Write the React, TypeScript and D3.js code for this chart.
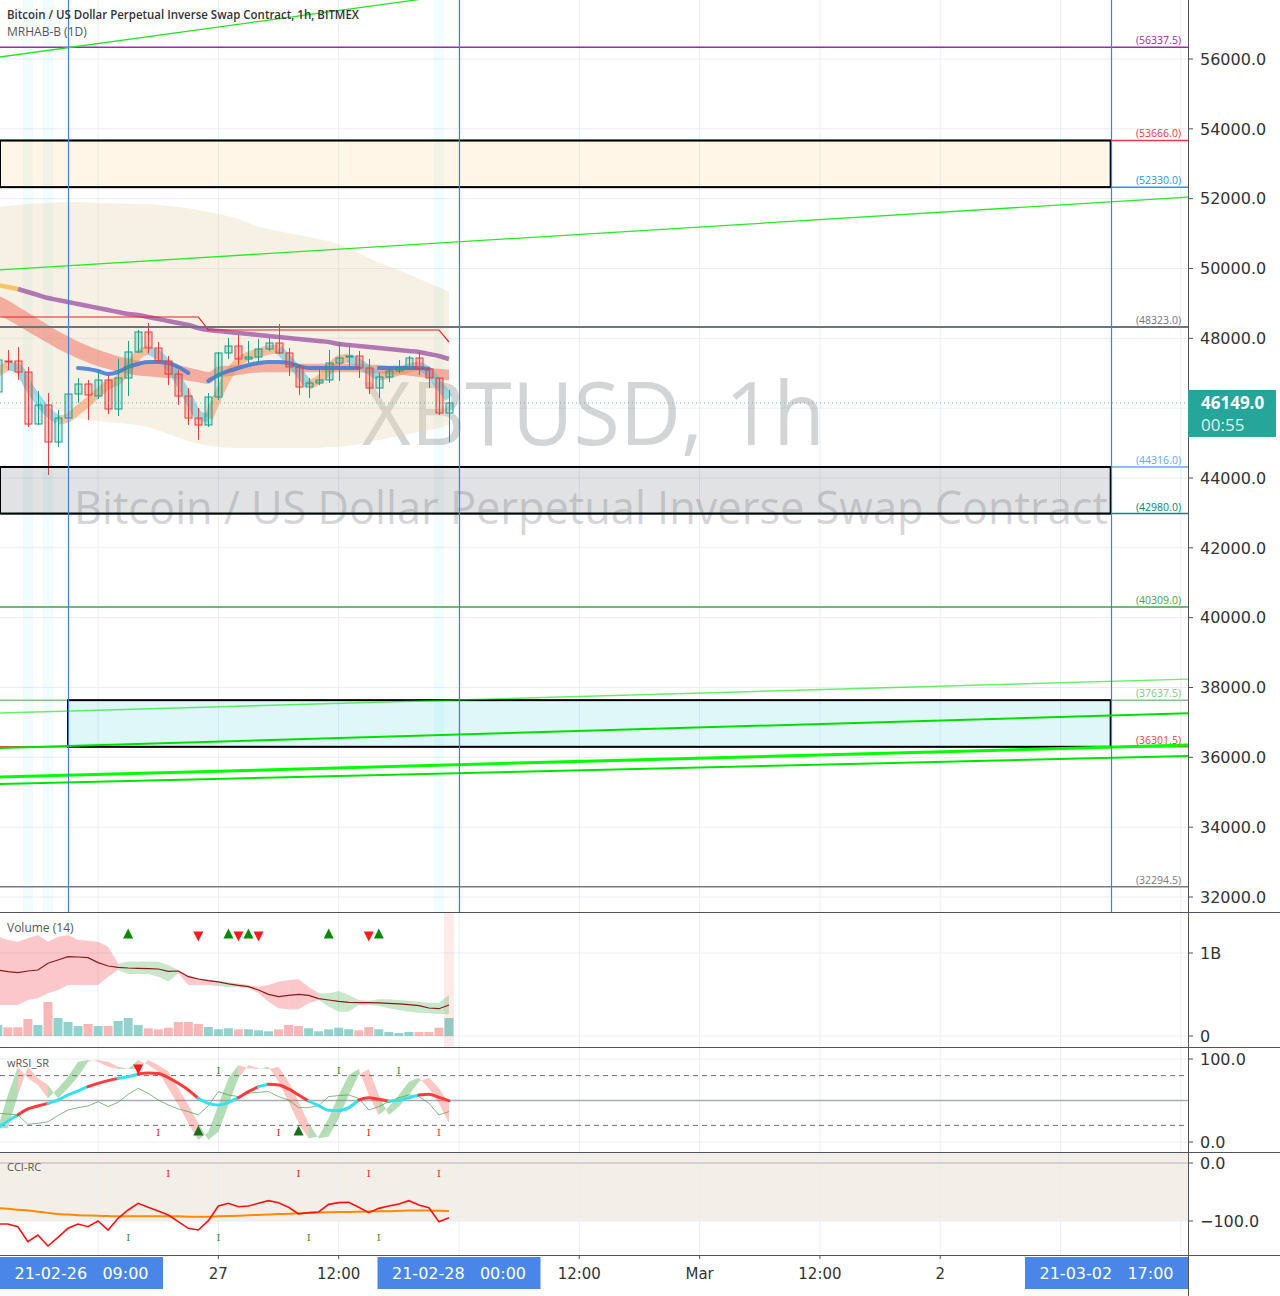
import React, { useEffect } from 'react';
import * as d3 from 'd3';

const FIRST_BAR = Date.UTC(2021, 1, 26, 2);
const HOUR = 3600000;

// ---------- candles (XBTUSD 1h) ----------
const barOpen = [46463, 47351, 47351, 47036, 45546, 46090, 45031, 45718, 46405, 46692, 46348, 46807, 45976, 46864, 47609, 48181, 47723, 47351, 46978, 46348, 45718, 45518, 46320, 47580, 47780, 47408, 47465, 47694, 47866, 47580, 47179, 46606, 46721, 46807, 47294, 47465, 47494, 47150, 46577, 46893, 47064, 47150, 47437, 47122, 46864, 45862];
const barHigh = [47550, 47666, 47752, 47179, 46491, 46434, 45947, 46434, 46864, 46807, 47093, 46950, 47408, 47924, 48239, 48439, 47895, 47494, 47093, 46578, 46004, 46434, 47609, 48010, 48096, 47924, 47981, 48010, 48410, 47723, 47236, 46864, 47122, 47666, 47895, 47752, 47637, 47408, 47007, 47179, 47380, 47494, 47609, 47150, 46864, 46520];
const barLow = [46300, 47093, 46807, 45460, 45518, 44086, 44888, 45661, 46148, 45661, 46262, 45833, 45775, 46348, 47580, 47580, 47294, 46663, 46090, 45518, 45088, 45460, 46234, 47408, 47236, 47294, 47294, 47637, 47551, 46921, 46377, 46291, 46663, 46721, 46778, 47093, 46864, 46405, 46291, 46749, 47007, 47093, 46950, 46577, 45804, 45031];
const barClose = [47380, 47322, 47036, 45546, 46090, 45031, 45718, 46405, 46692, 46377, 46807, 45976, 46864, 47609, 48181, 47723, 47351, 46978, 46348, 45718, 45518, 46320, 47580, 47780, 47408, 47465, 47694, 47866, 47580, 47179, 46606, 46721, 46807, 47294, 47437, 47494, 47150, 46577, 46893, 47064, 47150, 47437, 47122, 46864, 45862, 46149];

// ---------- overlay indicator series (price units) ----------
const cloudTop = [51760, 51790, 51820, 51850, 51860, 51875, 51890, 51905, 51905, 51890, 51875, 51875, 51860, 51850, 51850, 51850, 51820, 51790, 51760, 51730, 51675, 51620, 51560, 51505, 51420, 51300, 51190, 51130, 51075, 51015, 50960, 50900, 50845, 50790, 50700, 50590, 50445, 50300, 50160, 50070, 49960, 49840, 49700, 49585, 49470, 49330];
const cloudBottom = [47235, 47095, 46865, 46580, 46290, 46090, 45945, 45805, 45720, 45660, 45630, 45605, 45575, 45545, 45520, 45460, 45375, 45260, 45145, 45060, 44975, 44915, 44890, 44860, 44860, 44860, 44860, 44860, 44860, 44860, 44860, 44860, 44860, 44890, 44890, 44915, 44975, 45030, 45090, 45145, 45205, 45260, 45315, 45375, 45430, 45520];
const slowMid = [48955, 48811, 48640, 48468, 48296, 48124, 47952, 47809, 47666, 47551, 47437, 47351, 47265, 47208, 47150, 47122, 47093, 47064, 47036, 46978, 46921, 46864, 47036, 47064, 47093, 47122, 47150, 47150, 47150, 47150, 47150, 47150, 47150, 47150, 47150, 47150, 47150, 47122, 47122, 47093, 47093, 47064, 47036, 47007, 46978, 46950];
const slowSpread = [280, 280, 275, 270, 265, 260, 255, 250, 245, 240, 235, 230, 225, 220, 215, 210, 205, 200, 195, 190, 180, 170, 160, 150, 140, 130, 125, 120, 120, 120, 120, 120, 120, 120, 120, 120, 120, 120, 120, 125, 130, 135, 140, 145, 150, 150];
const fastLine = [47036, 47208, 47150, 46663, 46234, 45890, 45661, 45718, 45947, 46177, 46434, 46663, 46807, 47150, 47523, 47666, 47523, 47236, 46807, 46291, 45804, 45718, 46377, 46950, 47322, 47494, 47580, 47666, 47694, 47380, 47036, 46663, 46807, 47093, 47380, 47437, 47294, 47093, 46921, 46978, 47064, 47150, 47208, 47036, 46663, 46291];
const midLine = [NaN, NaN, NaN, NaN, NaN, NaN, NaN, NaN, 47150, 47122, 47064, 46978, 47036, 47179, 47265, 47322, 47322, 47294, 47179, 47007, NaN, 46778, 46950, 47064, 47150, 47236, 47294, 47322, 47322, 47294, 47208, 47150, 47150, 47150, 47150, 47150, 47150, NaN, 47150, 47150, 47150, 47150, 47150, 47122, NaN, NaN];
const dailyMA = [49527, 49470, 49413, 49327, 49241, 49155, 49098, 49040, 48983, 48926, 48869, 48811, 48754, 48697, 48668, 48611, 48554, 48497, 48439, 48382, 48296, 48239, 48210, 48182, 48153, 48124, 48096, 48067, 48038, 48010, 47981, 47952, 47924, 47895, 47838, 47810, 47781, 47752, 47723, 47694, 47666, 47637, 47609, 47551, 47494, 47408];
const stepHigh = [48611, 48611, 48611, 48611, 48611, 48611, 48611, 48611, 48611, 48611, 48611, 48611, 48611, 48611, 48611, 48611, 48611, 48611, 48611, 48611, 48611, 48239, 48239, 48239, 48239, 48239, 48239, 48239, 48239, 48239, 48239, 48239, 48239, 48239, 48239, 48239, 48239, 48239, 48239, 48239, 48239, 48239, 48239, 48239, 48239, 47895];
const highlightBars = [3, 5, 44];

// ---------- drawings ----------
const levelPrices = [56337.5, 53666.0, 52330.0, 48323.0, 44316.0, 42980.0, 40309.0, 37637.5, 36301.5, 32294.5];
const levelColors = ['#9c27b0', '#f23645', '#2196f3', '#6f727c', '#64a8f0', '#00897b', '#43a047', '#81c784', '#ff3d3d', '#787b86'];
const zoneTop = [53666.0, 44316.0, 37637.5];
const zoneBottom = [52330.0, 42980.0, 36301.5];
const zoneStartHour = [-7, -7, 0];
const zoneFill = ['rgba(255,152,0,0.09)', 'rgba(120,123,134,0.22)', 'rgba(0,188,212,0.12)'];
// trend lines: price at 21-02-26 02:00 and at 21-03-02 17:00
const trendStart = [56049, 49954, 37267, 36265, 35435, 35235];
const trendEnd = [60422, 51910, 38177, 37200, 36291, 35984];
const trendWidth = [1.3, 1.3, 1.4, 2, 3, 2];
const trendColor = ['#22e622', '#22ee22', 'rgba(0,230,0,0.6)', '#00e000', '#00ff00', '#00e600'];
const markerHours = [0, 39, 104]; // vertical lines, hours after 21-02-26 09:00

// ---------- volume ----------
const volume = [133, 105, 105, 205, 133, 410, 217, 169, 120, 145, 120, 120, 181, 217, 133, 93, 81, 100, 169, 169, 145, 108, 81, 93, 81, 81, 69, 57, 81, 133, 120, 93, 57, 81, 100, 81, 69, 108, 81, 48, 36, 48, 48, 48, 100, 217];
const volumeUp = [1, 0, 0, 0, 1, 0, 1, 1, 1, 0, 1, 0, 1, 1, 1, 0, 0, 0, 0, 0, 0, 1, 1, 1, 0, 1, 1, 1, 0, 0, 0, 1, 1, 1, 1, 1, 0, 0, 1, 1, 1, 1, 0, 0, 0, 1];
const volMA = [795, 775, 763, 783, 795, 876, 916, 956, 952, 944, 884, 843, 827, 819, 815, 811, 807, 779, 783, 715, 687, 667, 651, 627, 611, 594, 554, 502, 474, 490, 502, 490, 450, 434, 418, 406, 402, 402, 398, 394, 386, 378, 365, 337, 329, 373];
const volUpper = [1197, 1157, 1137, 1177, 1217, 1137, 1197, 1217, 1157, 1149, 1137, 1076, 875, 896, 896, 896, 896, 855, 795, 735, 695, 675, 659, 651, 634, 610, 594, 614, 655, 675, 683, 594, 514, 514, 542, 494, 434, 426, 442, 442, 434, 426, 414, 402, 402, 494];
const volLower = [373, 373, 373, 434, 454, 514, 554, 614, 614, 614, 614, 715, 795, 747, 747, 747, 715, 655, 755, 614, 614, 614, 602, 586, 586, 578, 514, 414, 333, 321, 321, 394, 434, 353, 293, 293, 373, 373, 361, 333, 313, 293, 281, 273, 265, 265];
const volBandUp = [0, 0, 0, 0, 0, 0, 0, 0, 0, 0, 0, 0, 1, 1, 1, 1, 1, 1, 0, 0, 0, 0, 1, 1, 0, 0, 0, 0, 0, 0, 0, 0, 1, 1, 1, 1, 0, 1, 1, 1, 1, 1, 1, 1, 1];
const volSignalUp = [13, 23, 25, 33, 38];
const volSignalDown = [20, 24, 26, 37];

// ---------- wRSI_SR ----------
const rsiFast = [16.5, 56.6, 90.8, 76.7, 68.7, 52.6, 64.7, 78.7, 96.8, 98.8, 96.8, 90.8, 88.0, 88.0, 98.8, 92.8, 84.8, 64.7, 44.6, 22.5, 2.4, 12.5, 44.6, 76.7, 92.8, 88.8, 88.0, 90.8, 72.7, 48.6, 22.5, 4.4, 6.5, 28.6, 56.6, 80.8, 88.0, 56.6, 32.6, 42.6, 56.6, 72.7, 77.5, 64.7, 46.6, 22.5];
const rsiSignal = [17.3, 25.3, 32.6, 39.8, 43.4, 46.6, 50.6, 56.7, 61.5, 66.7, 70.7, 73.9, 76.7, 78.7, 82.0, 83.2, 82.4, 77.5, 70.7, 62.7, 52.6, 46.6, 44.6, 47.8, 53.4, 60.7, 66.7, 69.5, 68.7, 63.9, 56.7, 49.4, 43.8, 38.2, 37.8, 41.4, 50.6, 53.4, 51.4, 49.0, 50.2, 53.4, 56.7, 57.5, 53.8, 49.8];
const rsiSignalHot = [0, 0, 1, 1, 1, 0, 0, 0, 0, 1, 1, 1, 0, 0, 1, 1, 1, 1, 1, 1, 0, 0, 0, 0, 1, 1, 0, 1, 1, 1, 1, 0, 0, 0, 0, 0, 1, 1, 1, 0, 0, 0, 1, 1, 1];
const rsiSlow = [34.6, 33.8, 32.6, 21.3, 22.5, 24.5, 31.8, 38.6, 41.4, 43.4, 48.6, 42.6, 47.8, 57.5, 64.7, 58.7, 50.6, 44.6, 39.8, 36.6, 32.6, 43.8, 60.7, 56.7, 54.7, 58.7, 59.9, 60.7, 54.7, 50.6, 41.4, 41.4, 43.8, 54.7, 55.9, 56.7, 52.6, 38.6, 42.6, 48.6, 53.4, 56.7, 54.7, 46.6, 32.6, 36.6];
const rsiLevels = [80, 20];
const rsiSellArrow = [14];
const rsiBuyArrow = [20, 30];
const rsiTopTicks = [22, 34, 40];
const rsiBottomTicks = [16, 28, 37, 44];

// ---------- CCI-RC ----------
const cci = [-105.2, -105.2, -109.8, -135.6, -124.1, -143.1, -128.2, -112.6, -105.2, -109.8, -100.0, -115.5, -95.4, -81.0, -69.5, -76.4, -82.8, -89.7, -101.2, -112.6, -115.5, -99.4, -74.1, -69.5, -75.3, -74.1, -69.5, -64.9, -68.4, -76.4, -87.9, -85.6, -84.5, -71.3, -68.4, -67.8, -76.4, -85.6, -78.2, -74.1, -70.7, -64.9, -72.4, -77.0, -101.2, -94.3];
const cciAvg = [-78, -79, -80.5, -82, -84, -86, -88, -89, -90, -90.5, -91, -91.5, -92, -92, -92, -92, -92, -92, -92, -92.5, -92.5, -92.5, -92, -91.5, -91, -90, -89.5, -89, -88, -87.5, -86.5, -86, -85.5, -85, -84.5, -84.5, -84, -83.5, -83, -83, -82.5, -82, -82, -82, -82.2, -82.8];
const cciTopTicks = [17, 30, 37, 44];
const cciBottomTicks = [13, 22, 31, 38];

// ---------- axes ----------
const priceTicks = [32000, 34000, 36000, 38000, 40000, 42000, 44000, 46000, 48000, 50000, 52000, 54000, 56000];
const timeTickHours = [15, 27, 51, 63, 75, 87];
const timeTickLabels = ['27', '12:00', '12:00', 'Mar', '12:00', '2'];
const cursorLabels = ['21-02-26   09:00', '21-02-28   00:00', '21-03-02   17:00'];
const lastPrice = 46149.0;
const lastBarCountdown = '00:55';

const AX = '"DejaVu Sans", Verdana, sans-serif';
const UI = '"Open Sans", "DejaVu Sans", sans-serif';
const PR = 1188;
const GRID = '#e8edf3';

export default function App() {
  useEffect(() => {
    document.body.style.margin = '0';
    document.body.style.overflow = 'hidden';
  }, []);

  const T9 = Date.UTC(2021, 1, 26, 9);
  const x = d3.scaleUtc().domain([new Date(T9), new Date(Date.UTC(2021, 1, 28, 0))]).range([68, 459]);
  const bx = (i: number) => x(new Date(FIRST_BAR + i * HOUR));
  const hx = (h: number) => x(new Date(T9 + h * HOUR));
  const yP = d3.scaleLinear().domain([32000, 56000]).range([897, 59]);
  const yV = d3.scaleLinear().domain([0, 1000]).range([1036, 953]);
  const yR = d3.scaleLinear().domain([0, 100]).range([1142, 1059]);
  const yC = d3.scaleLinear().domain([-100, 0]).range([1221, 1163]);
  const idx = d3.range(barOpen.length);
  const n = idx.length;
  const xEnd = hx(104);

  const gridX = d3.utcHour.every(12)!.range(new Date(Date.UTC(2021, 1, 26, 0)), new Date(Date.UTC(2021, 2, 3, 6))).map((d) => x(d)).filter((v) => v > 0 && v < PR);

  const seriesLine = (arr: number[], sc: (v: number) => number, curve = d3.curveLinear) =>
    d3.line<number>().defined((i) => !isNaN(arr[i])).x((i) => bx(i)).y((i) => sc(arr[i])).curve(curve)(idx) || '';

  const cloudPath = d3.area<number>().x((i) => bx(i)).y0((i) => yP(cloudBottom[i])).y1((i) => yP(cloudTop[i])).curve(d3.curveBasis)(idx) || '';
  const slowPath = d3.area<number>().x((i) => bx(i)).y0((i) => yP(slowMid[i] - slowSpread[i])).y1((i) => yP(slowMid[i] + slowSpread[i])).curve(d3.curveMonotoneX)(idx) || '';

  const runs = (arr: number[], flag: (i: number) => number) => {
    const out: { c: number; pts: number[] }[] = [];
    for (let i = 0; i < arr.length - 1; i++) {
      const c = flag(i);
      const last = out[out.length - 1];
      if (last && last.c === c) last.pts.push(i + 1);
      else out.push({ c, pts: [i, i + 1] });
    }
    return out;
  };
  const fastRuns = runs(fastLine, (i) => (fastLine[i + 1] >= fastLine[i] ? 1 : 0));
  const rsiRuns = runs(rsiSignal, (i) => rsiSignalHot[i]);

  const candleW = 7;
  const triUp = (cx: number, cy: number, s: number) => `M${cx},${cy - s * 0.55}L${cx + s / 2},${cy + s * 0.45}L${cx - s / 2},${cy + s * 0.45}Z`;
  const triDown = (cx: number, cy: number, s: number) => `M${cx - s / 2},${cy - s * 0.45}L${cx + s / 2},${cy - s * 0.45}L${cx},${cy + s * 0.55}Z`;
  const boxW = 163;

  return (
    <div style={{ position: 'absolute', left: 0, top: 0, width: 1280, height: 1296, background: '#fff' }}>
      <svg width={1280} height={1296} style={{ display: 'block' }}>
        <defs>
          <clipPath id="mainClip"><rect x={0} y={0} width={PR} height={912} /></clipPath>
          <clipPath id="volClip"><rect x={0} y={912} width={PR} height={135} /></clipPath>
          <clipPath id="rsiClip"><rect x={0} y={1047} width={PR} height={105} /></clipPath>
          <clipPath id="cciClip"><rect x={0} y={1152} width={PR} height={103} /></clipPath>
        </defs>
        <rect x={0} y={0} width={1280} height={1296} fill="#fff" />

        {/* ================= MAIN PANE ================= */}
        <g clipPath="url(#mainClip)">
          {priceTicks.map((p) => <line key={p} x1={0} x2={PR} y1={yP(p)} y2={yP(p)} stroke={GRID} strokeWidth={1} />)}
          {gridX.map((gx, k) => <line key={k} x1={gx} x2={gx} y1={0} y2={912} stroke={GRID} strokeWidth={1} />)}
          {highlightBars.map((i) => <rect key={i} x={bx(i) - 5} y={0} width={10} height={912} fill="rgba(0,200,225,0.06)" />)}

          <text x={362} y={445} fontFamily={UI} fontSize={88} textLength={463} lengthAdjust="spacingAndGlyphs" fill="rgba(110,112,120,0.3)">XBTUSD, 1h</text>
          <g transform="translate(74,524) scale(1,1.18)">
            <text x={0} y={0} fontFamily={UI} fontSize={39} textLength={1034} lengthAdjust="spacingAndGlyphs" fill="rgba(110,112,120,0.3)">Bitcoin / US Dollar Perpetual Inverse Swap Contract</text>
          </g>

          <path d={cloudPath} fill="rgba(232,208,172,0.33)" />
          <path d={slowPath} fill="rgba(240,105,90,0.5)" />
          {fastRuns.map((r, k) => (
            <path key={k} d={d3.line<number>().x((i) => bx(i)).y((i) => yP(fastLine[i])).curve(d3.curveMonotoneX)(r.pts) || ''}
              fill="none" stroke={r.c ? 'rgba(244,140,75,0.5)' : 'rgba(70,200,222,0.55)'} strokeWidth={9} strokeLinejoin="round" />
          ))}
          <path d={seriesLine(midLine, yP, d3.curveMonotoneX)} fill="none" stroke="rgba(60,120,215,0.85)" strokeWidth={4} strokeLinecap="round" />
          <path d={d3.line<number>().x((i) => bx(i)).y((i) => yP(dailyMA[i]))([0, 1, 2]) || ''} fill="none" stroke="rgba(245,190,80,0.85)" strokeWidth={4.5} />
          <path d={d3.line<number>().x((i) => bx(i)).y((i) => yP(dailyMA[i])).curve(d3.curveMonotoneX)(idx.slice(2)) || ''} fill="none" stroke="rgba(150,70,160,0.72)" strokeWidth={4.5} />
          <path d={seriesLine(stepHigh, yP)} fill="none" stroke="#f21d1d" strokeWidth={1.2} />

          {idx.map((i) => {
            const up = barClose[i] >= barOpen[i];
            const col = up ? '#17a08e' : '#ef3b3b';
            const fill = up ? 'rgba(38,166,154,0.22)' : 'rgba(239,83,80,0.28)';
            const cx = Math.round(bx(i)) + 0.5;
            const top = yP(Math.max(barOpen[i], barClose[i]));
            const bot = yP(Math.min(barOpen[i], barClose[i]));
            return (
              <g key={i}>
                <line x1={cx} x2={cx} y1={yP(barHigh[i])} y2={yP(barLow[i])} stroke={col} strokeWidth={1} />
                <rect x={cx - candleW / 2} y={top} width={candleW} height={Math.max(1, bot - top)} fill={fill} stroke={col} strokeWidth={1} />
              </g>
            );
          })}

          <line x1={0} x2={PR} y1={yP(lastPrice)} y2={yP(lastPrice)} stroke="#26a69a" strokeWidth={1} strokeDasharray="1 3" opacity={0.7} />

          {levelPrices.map((p, k) => (
            <line key={p} x1={0} x2={PR} y1={yP(p)} y2={yP(p)} stroke={levelColors[k]} strokeWidth={p === 48323 ? 2 : 1.5} />
          ))}
          {zoneTop.map((t, k) => {
            const x0 = Math.max(0, hx(zoneStartHour[k]));
            return <rect key={k} x={x0} y={yP(t)} width={xEnd - x0} height={yP(zoneBottom[k]) - yP(t)} fill={zoneFill[k]} stroke="#000" strokeWidth={2} />;
          })}
          {trendStart.map((p, k) => {
            const slope = (trendEnd[k] - p) / (xEnd - bx(0));
            return <line key={k} x1={bx(0)} y1={yP(p)} x2={PR} y2={yP(p + slope * (PR - bx(0)))} stroke={trendColor[k]} strokeWidth={trendWidth[k]} />;
          })}
          {markerHours.map((h) => <line key={h} x1={Math.round(hx(h)) + 0.5} x2={Math.round(hx(h)) + 0.5} y1={0} y2={912} stroke="#3f7fe8" strokeWidth={1.2} />)}
          {levelPrices.map((p, k) => (
            <text key={'l' + p} x={1181} y={yP(p) - 3} textAnchor="end" fontFamily={UI} fontSize={10.5} fill={levelColors[k]}>({p.toFixed(1)})</text>
          ))}
        </g>

        <text x={7} y={19} fontFamily={UI} fontSize={12} fontWeight={600} fill="#333" textLength={352} lengthAdjust="spacingAndGlyphs">Bitcoin / US Dollar Perpetual Inverse Swap Contract, 1h, BITMEX</text>
        <text x={7} y={36} fontFamily={UI} fontSize={12} fill="#555">MRHAB-B (1D)</text>

        {/* ================= VOLUME PANE ================= */}
        <g clipPath="url(#volClip)">
          {[0, 1000].map((v) => <line key={v} x1={0} x2={PR} y1={yV(v)} y2={yV(v)} stroke={GRID} />)}
          {gridX.map((gx, k) => <line key={k} x1={gx} x2={gx} y1={912} y2={1047} stroke={GRID} />)}
          <rect x={bx(n - 1) - 5} y={912} width={10} height={135} fill="rgba(255,82,82,0.12)" />
          {idx.slice(0, n - 1).map((i) => {
            const poly = [
              [bx(i), yV(volUpper[i])], [bx(i + 1), yV(volUpper[i + 1])],
              [bx(i + 1), yV(volLower[i + 1])], [bx(i), yV(volLower[i])],
            ];
            return <path key={i} d={'M' + poly.map((p) => p.join(',')).join('L') + 'Z'} fill={volBandUp[i] ? 'rgba(76,175,80,0.3)' : 'rgba(242,54,69,0.28)'} stroke="none" />;
          })}
          {idx.map((i) => (
            <rect key={i} x={bx(i) - 4.5} y={yV(volume[i])} width={9} height={yV(0) - yV(volume[i])} fill={volumeUp[i] ? 'rgba(38,166,154,0.5)' : 'rgba(239,83,80,0.42)'} />
          ))}
          <path d={seriesLine(volMA, yV)} fill="none" stroke="#8b1a1a" strokeWidth={1.2} />
          {volSignalUp.map((i) => <path key={'u' + i} d={triUp(bx(i), 934, 10)} fill="#0a8a0a" />)}
          {volSignalDown.map((i) => <path key={'d' + i} d={triDown(bx(i), 936, 10)} fill="#ff1a1a" />)}
        </g>
        <text x={7} y={932} fontFamily={UI} fontSize={12} fill="#555">Volume (14)</text>

        {/* ================= RSI PANE ================= */}
        <g clipPath="url(#rsiClip)">
          {[0, 100].map((v) => <line key={v} x1={0} x2={PR} y1={yR(v)} y2={yR(v)} stroke={GRID} />)}
          {gridX.map((gx, k) => <line key={k} x1={gx} x2={gx} y1={1047} y2={1152} stroke={GRID} />)}
          {rsiLevels.map((v) => <line key={v} x1={0} x2={PR} y1={yR(v)} y2={yR(v)} stroke="#6b6e78" strokeDasharray="5 4" strokeWidth={1} />)}
          <line x1={0} x2={PR} y1={yR(50)} y2={yR(50)} stroke="#a8abb3" strokeWidth={1.5} />
          {idx.slice(0, n - 1).map((i) => {
            const prev = i > 0 ? rsiFast[i - 1] : rsiFast[0];
            const poly = [
              [bx(i), yR(rsiFast[i])], [bx(i + 1), yR(rsiFast[i + 1])],
              [bx(i + 1), yR(rsiFast[i])], [bx(i), yR(prev)],
            ];
            const up = rsiFast[i + 1] >= rsiFast[i];
            return <path key={i} d={'M' + poly.map((p) => p.join(',')).join('L') + 'Z'} fill={up ? 'rgba(76,175,80,0.42)' : 'rgba(244,67,54,0.3)'} />;
          })}
          <path d={seriesLine(rsiSlow, yR)} fill="none" stroke="rgba(67,160,71,0.7)" strokeWidth={1} />
          {rsiRuns.map((r, k) => (
            <path key={k} d={d3.line<number>().x((i) => bx(i)).y((i) => yR(rsiSignal[i])).curve(d3.curveMonotoneX)(r.pts) || ''}
              fill="none" stroke={r.c ? '#ff3b3b' : '#35e0f0'} strokeWidth={3} strokeLinecap="round" />
          ))}
          {rsiSellArrow.map((i) => <path key={i} d={triDown(bx(i), 1069, 10)} fill="#ff1a1a" />)}
          {rsiBuyArrow.map((i) => <path key={i} d={triUp(bx(i), 1131, 10)} fill="#1b6e1b" />)}
          {rsiTopTicks.map((i) => <text key={'t' + i} x={bx(i)} y={1074} textAnchor="middle" fontFamily='"DejaVu Serif", serif' fontSize={10} fill="#2e8b2e">I</text>)}
          {rsiBottomTicks.map((i) => <text key={'b' + i} x={bx(i)} y={1136} textAnchor="middle" fontFamily='"DejaVu Serif", serif' fontSize={10} fill="#ff2020">I</text>)}
        </g>
        <text x={7} y={1067} fontFamily={UI} fontSize={11} fill="#555">wRSI_SR</text>

        {/* ================= CCI PANE ================= */}
        <g clipPath="url(#cciClip)">
          <rect x={0} y={1152} width={PR} height={yC(-100) - 1152} fill="#f3efe8" />
          <line x1={0} x2={PR} y1={yC(-100)} y2={yC(-100)} stroke={GRID} />
          {gridX.map((gx, k) => <line key={k} x1={gx} x2={gx} y1={1152} y2={1255} stroke={GRID} />)}
          <line x1={0} x2={PR} y1={yC(0)} y2={yC(0)} stroke="#b8b4ac" strokeWidth={1} />
          <path d={seriesLine(cciAvg, yC, d3.curveMonotoneX)} fill="none" stroke="#ff8a00" strokeWidth={2} />
          <path d={seriesLine(cci, yC)} fill="none" stroke="#ff1010" strokeWidth={1.6} />
          {cciTopTicks.map((i) => <text key={'t' + i} x={bx(i)} y={1177} textAnchor="middle" fontFamily='"DejaVu Serif", serif' fontSize={10} fill="#ff2020">I</text>)}
          {cciBottomTicks.map((i) => <text key={'b' + i} x={bx(i)} y={1241} textAnchor="middle" fontFamily='"DejaVu Serif", serif' fontSize={10} fill="#2e8b2e">I</text>)}
        </g>
        <text x={7} y={1171} fontFamily={UI} fontSize={11} fill="#555">CCI-RC</text>

        {/* ================= separators & axes ================= */}
        {[912, 1047, 1152, 1255].map((yy) => <line key={yy} x1={0} x2={1280} y1={yy + 0.5} y2={yy + 0.5} stroke="#50535e" strokeWidth={1} />)}
        <line x1={PR + 0.5} x2={PR + 0.5} y1={0} y2={1296} stroke="#50535e" strokeWidth={1} />

        {priceTicks.filter((p) => Math.abs(yP(p) - yP(lastPrice)) > 30).map((p) => (
          <g key={p}>
            <line x1={PR} x2={PR + 5} y1={yP(p)} y2={yP(p)} stroke="#50535e" />
            <text x={1200} y={yP(p)} dy="0.36em" fontFamily={AX} fontSize={16} fill="#333">{p.toFixed(1)}</text>
          </g>
        ))}
        <rect x={PR} y={yP(lastPrice) - 13} width={88} height={47} fill="#26a69a" />
        <text x={1201} y={yP(lastPrice)} dy="0.36em" fontFamily={UI} fontSize={17} fontWeight="bold" fill="#fff">{lastPrice.toFixed(1)}</text>
        <text x={1201} y={yP(lastPrice) + 22} dy="0.36em" fontFamily={UI} fontSize={17} fill="rgba(255,255,255,0.85)">{lastBarCountdown}</text>

        {[{ v: 1000, t: '1B' }, { v: 0, t: '0' }].map((d) => (
          <g key={d.t}>
            <line x1={PR} x2={PR + 5} y1={yV(d.v)} y2={yV(d.v)} stroke="#50535e" />
            <text x={1200} y={yV(d.v)} dy="0.36em" fontFamily={AX} fontSize={16} fill="#333">{d.t}</text>
          </g>
        ))}
        {[100, 0].map((v) => (
          <g key={'r' + v}>
            <line x1={PR} x2={PR + 5} y1={yR(v)} y2={yR(v)} stroke="#50535e" />
            <text x={1200} y={yR(v)} dy="0.36em" fontFamily={AX} fontSize={16} fill="#333">{v.toFixed(1)}</text>
          </g>
        ))}
        {[0, -100].map((v) => (
          <g key={'c' + v}>
            <line x1={PR} x2={PR + 5} y1={yC(v)} y2={yC(v)} stroke="#50535e" />
            <text x={1200} y={yC(v)} dy="0.36em" fontFamily={AX} fontSize={16} fill="#333">{v === 0 ? '0.0' : '\u2212100.0'}</text>
          </g>
        ))}

        {timeTickHours.map((h, k) => (
          <g key={h}>
            <line x1={hx(h)} x2={hx(h)} y1={1255} y2={1259} stroke="#50535e" />
            <text x={hx(h)} y={1279} textAnchor="middle" fontFamily={AX} fontSize={15} fill="#333">{timeTickLabels[k]}</text>
          </g>
        ))}
        {markerHours.map((h, k) => {
          const cx = hx(h);
          const left = Math.min(Math.max(0, cx - boxW / 2), PR - boxW);
          return (
            <g key={'c' + h}>
              <rect x={left} y={1257} width={boxW} height={32} fill="#4a86e8" />
              <text x={left + boxW / 2} y={1279} textAnchor="middle" fontFamily={AX} fontSize={16} fill="#fff" style={{ whiteSpace: 'pre' }}>{cursorLabels[k]}</text>
            </g>
          );
        })}
      </svg>
    </div>
  );
}
